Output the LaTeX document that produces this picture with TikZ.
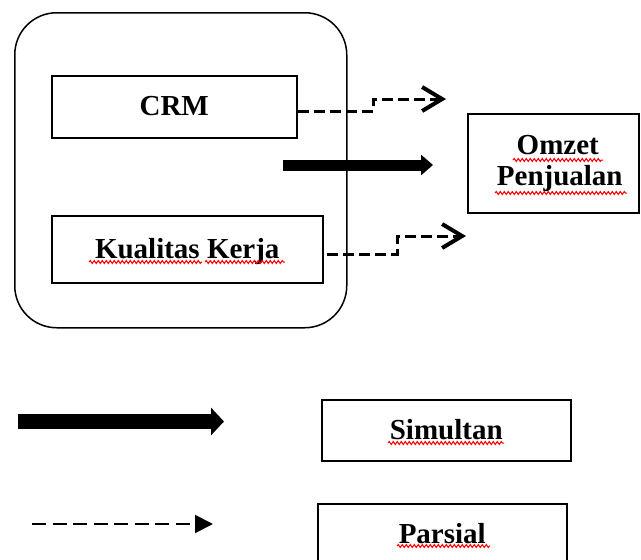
\documentclass[tikz,border=0pt]{standalone}
\usepackage{fontspec}
\setmainfont{Liberation Serif}
\usetikzlibrary{arrows.meta,decorations.pathmorphing}
\begin{document}
\begin{tikzpicture}[x=1pt,y=-1pt,
  basebox/.style={draw, line width=1.5pt, rectangle, inner sep=0pt, anchor=north west,
    font=\fontsize{29}{31}\selectfont\bfseries},
  box/.style={basebox, text height=20pt, text depth=2pt},
  dasharrow/.style={line width=3pt, dash pattern=on 11pt off 5pt,
    -{Straight Barb[length=20pt,width=24pt,line width=4pt]}},
  heavyarrow/.style={line width=11pt, -{Triangle[length=12pt,width=20pt]}},
  wave/.style={red, line width=1pt, decorate,
    decoration={snake, amplitude=1.5pt, segment length=4pt}}]
\useasboundingbox (0,0) rectangle (641,560);
\clip (0,0) rectangle (641,560);

% group container
\node[draw, line width=1.5pt, rounded corners=42pt, minimum width=332pt, minimum height=315pt,
  anchor=north west, inner sep=0pt] (grp) at (14,12) {};

% boxes
\node[box, minimum width=245pt, minimum height=62pt] (crm) at (51,75) {CRM};
\node[box, minimum width=271pt, minimum height=67pt] (kk) at (51,215) {Kualitas Kerja};
\node[basebox, minimum width=171pt, minimum height=99pt, align=center] (oz) at (467,113)
  {\hspace*{9pt}Omzet\\\hspace*{13pt}Penjualan};
\node[box, minimum width=249pt, minimum height=61pt] (sim) at (321,399) {Simultan};
\node[box, minimum width=249pt, minimum height=62pt] (par) at (317,503) {Parsial};

% connector endpoints
\coordinate (s1) at (298,111);
\coordinate (t1) at (446,99);
\coordinate (s2) at (327,254);
\coordinate (t2) at (466,236);
\coordinate (s3) at (283,165);
\coordinate (t3) at (433,165);
\coordinate (ls1) at (18,421.5);
\coordinate (lt1) at (224,421.5);
\coordinate (ls2) at (32,524);
\coordinate (lt2) at (213,524);

% partial arrows
\draw[dasharrow] (s1) -- (373,111) |- (t1);
\draw[dasharrow] (s2) -- (397,254) |- (t2);

% simultaneous arrow
\draw[heavyarrow] (s3) -- (t3);

% legend arrows
\draw[line width=15pt, -{Triangle[length=13pt,width=27pt]}] (ls1) -- (lt1);
\draw[line width=2pt, dash pattern=on 14pt off 6.5pt,
  -{Triangle[length=18pt,width=18pt]}] (ls2) -- (lt2);

% spell-check squiggles
\draw[wave] (89,262) -- (202,262);
\draw[wave] (205,262) -- (285,262);
\draw[wave] (513,160) -- (603,160);
\draw[wave] (495,193) -- (627,193);
\draw[wave] (388,443) -- (504,443);
\draw[wave] (397,546) -- (490,546);
\end{tikzpicture}
\end{document}
